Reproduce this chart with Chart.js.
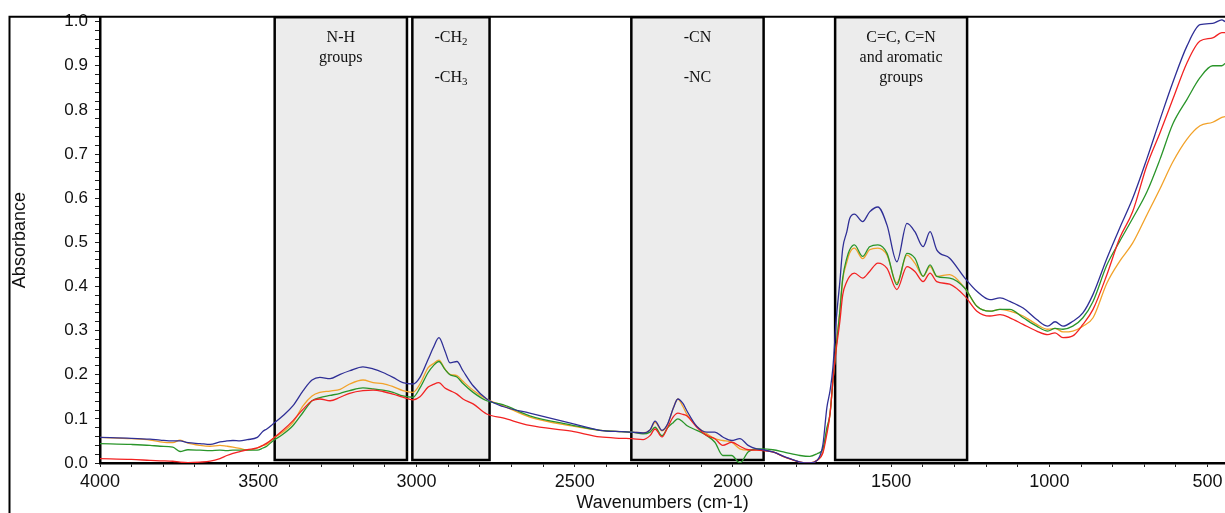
<!DOCTYPE html>
<html>
<head>
<meta charset="utf-8">
<title>FTIR absorbance spectra</title>
<script src="https://cdn.jsdelivr.net/npm/chart.js@4.4.1/dist/chart.umd.min.js"></script>
<style>
  html, body { margin: 0; padding: 0; background: #ffffff; }
  canvas { display: block; }
</style>
</head>
<body>
<canvas id="spectrum" width="1225" height="513"></canvas>
<script>
// Wavenumber grid (cm-1) shared by the four spectra
const wavenumbers = [
  4000, 3901, 3842, 3810, 3770, 3747, 3722, 3684, 3652, 3621, 3599, 3580, 3558, 3535, 3503,
  3485, 3473, 3454, 3422, 3390, 3358, 3330, 3305, 3273, 3241, 3211, 3169, 3137, 3106, 3074,
  3043, 3011, 2989, 2963, 2947, 2929, 2910, 2894, 2872, 2853, 2821, 2778, 2727, 2642, 2510,
  2420, 2352, 2319, 2284, 2262, 2246, 2224, 2206, 2188, 2174, 2158, 2146, 2114, 2082, 2057,
  2032, 2004, 1978, 1952, 1925, 1905, 1874, 1835, 1788, 1757, 1734, 1716, 1703, 1693, 1684,
  1674, 1662, 1653, 1640, 1631, 1616, 1590, 1568, 1542, 1513, 1482, 1450, 1425, 1399, 1377,
  1356, 1315, 1267, 1229, 1188, 1156, 1125, 1083, 1040, 1005, 982, 957, 926, 894, 862,
  818, 778, 737, 692, 650, 610, 565, 524, 484, 455, 445
];

const absBlue = [
  0.058, 0.056, 0.054, 0.052, 0.050, 0.050, 0.046, 0.044, 0.042, 0.048, 0.050, 0.051, 0.050, 0.053, 0.058,
  0.072, 0.077, 0.088, 0.107, 0.130, 0.164, 0.188, 0.194, 0.191, 0.201, 0.209, 0.218, 0.213, 0.205, 0.194,
  0.182, 0.179, 0.194, 0.235, 0.261, 0.284, 0.254, 0.227, 0.230, 0.209, 0.175, 0.145, 0.128, 0.113, 0.090,
  0.074, 0.071, 0.070, 0.068, 0.075, 0.095, 0.074, 0.089, 0.125, 0.145, 0.135, 0.119, 0.083, 0.070, 0.070,
  0.059, 0.051, 0.055, 0.040, 0.032, 0.030, 0.025, 0.014, 0.002, 0.000, 0.006, 0.040, 0.126, 0.164, 0.216,
  0.321, 0.411, 0.486, 0.524, 0.554, 0.564, 0.547, 0.569, 0.580, 0.539, 0.456, 0.543, 0.524, 0.490, 0.524,
  0.483, 0.464, 0.419, 0.389, 0.370, 0.374, 0.366, 0.351, 0.325, 0.310, 0.320, 0.310, 0.321, 0.340, 0.382,
  0.464, 0.532, 0.599, 0.689, 0.779, 0.862, 0.945, 0.993, 0.996, 1.004, 1.000
];

const absRed = [
  0.010, 0.008, 0.006, 0.005, 0.004, 0.002, 0.001, 0.002, 0.004, 0.010, 0.017, 0.022, 0.026, 0.030, 0.034,
  0.040, 0.045, 0.055, 0.074, 0.096, 0.122, 0.141, 0.145, 0.141, 0.149, 0.158, 0.164, 0.165, 0.162, 0.156,
  0.149, 0.143, 0.150, 0.172, 0.178, 0.182, 0.170, 0.164, 0.156, 0.145, 0.134, 0.111, 0.102, 0.085, 0.072,
  0.059, 0.056, 0.055, 0.053, 0.062, 0.077, 0.059, 0.081, 0.105, 0.113, 0.110, 0.107, 0.081, 0.062, 0.055,
  0.040, 0.047, 0.038, 0.030, 0.029, 0.028, 0.025, 0.013, 0.002, 0.000, 0.006, 0.022, 0.066, 0.112, 0.186,
  0.255, 0.321, 0.381, 0.411, 0.423, 0.430, 0.419, 0.434, 0.453, 0.441, 0.393, 0.445, 0.434, 0.411, 0.430,
  0.411, 0.405, 0.378, 0.344, 0.333, 0.336, 0.329, 0.314, 0.299, 0.291, 0.295, 0.284, 0.288, 0.314, 0.348,
  0.427, 0.509, 0.569, 0.674, 0.749, 0.824, 0.907, 0.956, 0.963, 0.975, 0.975
];

const absGreen = [
  0.044, 0.042, 0.040, 0.038, 0.036, 0.026, 0.030, 0.029, 0.028, 0.029, 0.028, 0.029, 0.029, 0.029, 0.029,
  0.034, 0.038, 0.050, 0.065, 0.085, 0.115, 0.141, 0.148, 0.153, 0.158, 0.164, 0.170, 0.168, 0.165, 0.160,
  0.152, 0.149, 0.170, 0.205, 0.220, 0.230, 0.212, 0.200, 0.195, 0.180, 0.160, 0.141, 0.132, 0.107, 0.086,
  0.074, 0.071, 0.070, 0.066, 0.070, 0.081, 0.062, 0.080, 0.092, 0.100, 0.093, 0.085, 0.074, 0.062, 0.047,
  0.017, 0.017, 0.000, 0.025, 0.032, 0.032, 0.030, 0.024, 0.017, 0.015, 0.021, 0.032, 0.080, 0.112, 0.186,
  0.261, 0.344, 0.419, 0.464, 0.483, 0.494, 0.468, 0.490, 0.494, 0.475, 0.404, 0.475, 0.464, 0.423, 0.449,
  0.423, 0.419, 0.396, 0.355, 0.344, 0.348, 0.348, 0.329, 0.310, 0.299, 0.305, 0.303, 0.310, 0.329, 0.366,
  0.449, 0.502, 0.554, 0.614, 0.689, 0.768, 0.824, 0.873, 0.900, 0.900, 0.905
];

const absOrange = [
  0.058, 0.055, 0.052, 0.048, 0.046, 0.052, 0.045, 0.040, 0.038, 0.040, 0.038, 0.036, 0.033, 0.029, 0.034,
  0.040, 0.042, 0.055, 0.070, 0.092, 0.130, 0.152, 0.160, 0.163, 0.167, 0.179, 0.188, 0.182, 0.180, 0.173,
  0.164, 0.160, 0.179, 0.216, 0.225, 0.233, 0.213, 0.201, 0.198, 0.185, 0.165, 0.145, 0.130, 0.104, 0.084,
  0.074, 0.071, 0.070, 0.068, 0.074, 0.092, 0.073, 0.088, 0.125, 0.145, 0.128, 0.111, 0.083, 0.066, 0.055,
  0.051, 0.047, 0.032, 0.029, 0.030, 0.029, 0.025, 0.013, 0.002, 0.000, 0.006, 0.025, 0.075, 0.112, 0.186,
  0.261, 0.344, 0.415, 0.455, 0.476, 0.487, 0.463, 0.483, 0.487, 0.471, 0.408, 0.471, 0.453, 0.423, 0.445,
  0.423, 0.427, 0.396, 0.355, 0.344, 0.348, 0.344, 0.333, 0.314, 0.303, 0.305, 0.297, 0.299, 0.310, 0.329,
  0.408, 0.457, 0.498, 0.562, 0.622, 0.682, 0.734, 0.764, 0.772, 0.783, 0.785
];

// Axis tick labels
const xTickLabels = [4000, 3500, 3000, 2500, 2000, 1500, 1000, 500];
const yTickLabels = [0.0, 0.1, 0.2, 0.3, 0.4, 0.5, 0.6, 0.7, 0.8, 0.9, 1.0];

// Shaded functional-group bands (cm-1) and their captions
const bandFrom = [3448, 3013, 2321, 1677];
const bandTo   = [3030, 2769, 1903, 1260];
const bandText = [
  ['N-H', 'groups'],
  ['-CH\u2082', '', '-CH\u2083'],
  ['-CN', '', '-NC'],
  ['C=C, C=N', 'and aromatic', 'groups']
];

const SANS = "'Liberation Sans', Arial, Helvetica, sans-serif";
const SERIF = "'Liberation Serif', 'Times New Roman', Times, serif";

// Minor tick positions: 100 cm-1 on x, 0.02 on y
const xTickMin = Math.min(...xTickLabels), xTickMax = Math.max(...xTickLabels);
const xTickValues = [];
for (let v = xTickMin; v <= xTickMax; v += 100) xTickValues.push(v);
const yTickValues = [];
for (let i = 0; i < yTickLabels.length - 1; i++) {
  const a = yTickLabels[i], b = yTickLabels[i + 1];
  for (let k = 0; k < 5; k++) yTickValues.push(+(a + (b - a) * k / 5).toFixed(3));
}
yTickValues.push(yTickLabels[yTickLabels.length - 1]);

function series(values) {
  return wavenumbers.map((w, i) => ({ x: w, y: values[i] }));
}

// Draws text where Unicode subscript digits are set small and lowered
function drawRichText(ctx, text, cx, baseline, size) {
  const runs = [];
  for (const ch of text) {
    const code = ch.charCodeAt(0);
    const sub = code >= 0x2080 && code <= 0x2089;
    const c = sub ? String.fromCharCode(48 + code - 0x2080) : ch;
    if (runs.length && runs[runs.length - 1].sub === sub) runs[runs.length - 1].t += c;
    else runs.push({ t: c, sub });
  }
  let total = 0;
  for (const r of runs) {
    ctx.font = (r.sub ? size * 0.68 : size) + 'px ' + SERIF;
    r.w = ctx.measureText(r.t).width;
    total += r.w;
  }
  let x = cx - total / 2;
  for (const r of runs) {
    ctx.font = (r.sub ? size * 0.68 : size) + 'px ' + SERIF;
    ctx.fillText(r.t, x, baseline + (r.sub ? size * 0.22 : 0));
    x += r.w;
  }
}

const bandPlugin = {
  id: 'bands',
  beforeDatasetsDraw(chart) {
    const { ctx, chartArea, scales: { x } } = chart;
    ctx.save();
    for (let i = 0; i < bandFrom.length; i++) {
      const x1 = x.getPixelForValue(bandFrom[i]);
      const x2 = x.getPixelForValue(bandTo[i]);
      const top = chartArea.top;
      const bottom = chartArea.bottom - 3;
      ctx.fillStyle = '#ececec';
      ctx.fillRect(x1, top, x2 - x1, bottom - top);
      ctx.strokeStyle = '#000000';
      ctx.lineWidth = 2.5;
      ctx.strokeRect(x1, top, x2 - x1, bottom - top);
      ctx.fillStyle = '#111111';
      ctx.textAlign = 'left';
      ctx.textBaseline = 'alphabetic';
      const cx = (x1 + x2) / 2;
      bandText[i].forEach((line, j) => {
        if (line) drawRichText(ctx, line, cx, top + 24.5 + j * 20, 16);
      });
    }
    ctx.restore();
  }
};

const framePlugin = {
  id: 'frame',
  afterDraw(chart) {
    const { ctx, chartArea, width, height } = chart;
    ctx.save();
    ctx.strokeStyle = '#000000';
    ctx.lineWidth = 2;
    ctx.beginPath();
    ctx.moveTo(9, chartArea.top - 0.5);
    ctx.lineTo(width, chartArea.top - 0.5);
    ctx.moveTo(9.5, chartArea.top - 1.5);
    ctx.lineTo(9.5, height);
    ctx.stroke();
    ctx.restore();
  }
};

const lineStyle = { borderWidth: 1.3, pointRadius: 0, fill: false, cubicInterpolationMode: 'monotone' };

new Chart(document.getElementById('spectrum'), {
  type: 'line',
  data: {
    datasets: [
      Object.assign({ label: 'Blue', data: series(absBlue), borderColor: '#2f2f96' }, lineStyle),
      Object.assign({ label: 'Red', data: series(absRed), borderColor: '#f22222' }, lineStyle),
      Object.assign({ label: 'Green', data: series(absGreen), borderColor: '#2a952a' }, lineStyle),
      Object.assign({ label: 'Orange', data: series(absOrange), borderColor: '#f2a22a' }, lineStyle)
    ]
  },
  options: {
    responsive: false,
    animation: false,
    events: [],
    layout: { padding: { top: 14, left: 0, right: 0, bottom: 0 } },
    plugins: { legend: { display: false }, tooltip: { enabled: false } },
    scales: {
      x: {
        type: 'linear',
        reverse: true,
        min: 445,
        max: 4000,
        afterBuildTicks: s => { s.ticks = xTickValues.map(v => ({ value: v })); },
        afterFit: s => { s.height = 50; },
        ticks: {
          autoSkip: false, maxRotation: 0, minRotation: 0, padding: 4,
          color: '#111111', font: { family: SANS, size: 18 },
          callback: v => (xTickLabels.includes(v) ? String(v) : '')
        },
        grid: { display: true, drawOnChartArea: false, drawTicks: true, tickLength: 4, tickColor: '#222222', tickWidth: 1 },
        border: { display: true, color: '#000000', width: 2.5 },
        title: {
          display: true, text: 'Wavenumbers (cm-1)', color: '#111111',
          font: { family: SANS, size: 18 }, padding: { top: 0, bottom: -1 }
        }
      },
      y: {
        type: 'linear',
        min: 0,
        max: 1.01,
        afterBuildTicks: s => { s.ticks = yTickValues.map(v => ({ value: v })); },
        afterFit: s => { s.width = 100; },
        ticks: {
          autoSkip: false, padding: 7, color: '#111111', font: { family: SANS, size: 17 },
          callback: v => {
            const hit = yTickLabels.find(t => Math.abs(t - v) < 1e-6);
            return hit === undefined ? '' : hit.toFixed(1);
          }
        },
        grid: { display: true, drawOnChartArea: false, drawTicks: true, tickLength: 5, tickColor: '#222222', tickWidth: 1 },
        border: { display: true, color: '#000000', width: 2.5 },
        title: {
          display: true, text: 'Absorbance', color: '#111111',
          font: { family: SANS, size: 18 }, padding: { top: 9, bottom: 0 }
        }
      }
    }
  },
  plugins: [bandPlugin, framePlugin]
});
</script>
</body>
</html>
